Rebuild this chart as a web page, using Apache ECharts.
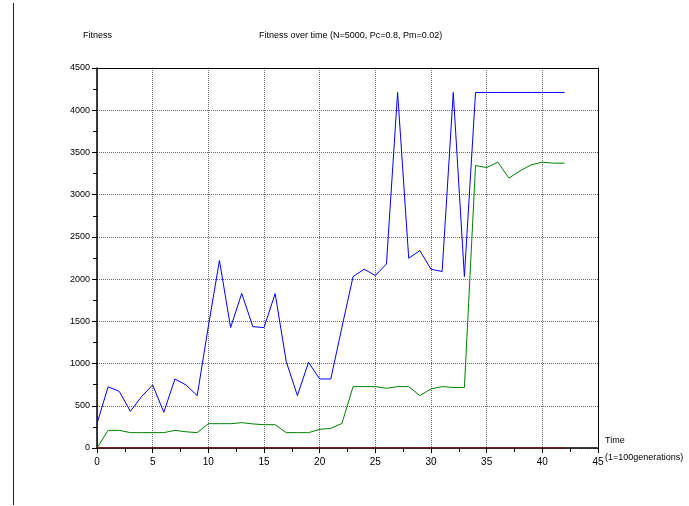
<!DOCTYPE html>
<html><head><meta charset="utf-8">
<script src="https://cdn.jsdelivr.net/npm/echarts@6/dist/echarts.min.js"></script>
<style>html,body{margin:0;padding:0;background:#fff}#c{width:689px;height:506px}</style>
</head><body><div id="c"></div>
<script>
var generations = [0,1,2,3,4,5,6,7,8,9,10,11,12,13,14,15,16,17,18,19,20,21,22,23,24,25,26,27,28,29,30,31,32,33,34,35,36,37,38,39,40,41,42];
var bestFitness = [290,725,670,435,608,746,423,817,746,620,1440,2220,1426,1830,1437,1426,1828,1023,620,1015,817,817,1430,2030,2117,2042,2180,4210,2247,2338,2117,2090,4210,2030,4210,4210,4210,4210,4210,4210,4210,4210,4210];
var avgFitness = [0,209,209,182,182,182,182,209,192,182,288,288,288,300,285,276,276,182,182,182,221,233,291,727,727,727,707,727,727,620,699,727,717,717,3345,3321,3385,3196,3282,3353,3385,3373,3373];
var worstFitness = [0,0,0,0,0,0,0,0,0,0,0,0,0,0,0,0,0,0,0,0,0,0,0,0,0,0,0,0,0,0,0,0,0,0,0,0,0,0,0,0,0,0,0];
var yAxisTitle = 'Fitness';
var chartTitle = 'Fitness over time (N=5000, Pc=0.8, Pm=0.02)';
var xAxisTitle = 'Time\n(1=100generations)';

function pairs(v){ return generations.map(function(g,i){ return [g, v[i]]; }); }
var F = 'Liberation Sans, Arial, sans-serif';
var chart = echarts.init(document.getElementById('c'), null, {renderer:'canvas'});
chart.setOption({
  animation:false,
  backgroundColor:'#fff',
  title:[
    {text:yAxisTitle, left:78, top:26, textStyle:{fontFamily:F, fontSize:9, fontWeight:'normal', color:'#000'}},
    {text:chartTitle, left:254, top:26, textStyle:{fontFamily:F, fontSize:9, fontWeight:'normal', color:'#000'}},
    {text:xAxisTitle, left:600, top:427, textStyle:{fontFamily:F, fontSize:9, fontWeight:'normal', color:'#000', lineHeight:17}}
  ],
  graphic:[{type:'line', shape:{x1:13.5,y1:3,x2:13.5,y2:505}, style:{stroke:'#222', lineWidth:1}}],
  grid:{left:97, right:91, top:68, bottom:58, outerBoundsMode:'none', containLabel:false},
  xAxis:[{
    type:'value', min:0, max:45, interval:5,
    axisLine:{show:true, lineStyle:{color:'#000', width:1.5}},
    axisTick:{show:true, length:5, lineStyle:{color:'#000'}},
    minorTick:{show:true, splitNumber:2, length:4, lineStyle:{color:'#000'}},
    axisLabel:{margin:9, fontFamily:F, fontSize:10, color:'#000'},
    splitLine:{show:true, lineStyle:{color:'#6a6a6a', type:[1,1], width:1}}
  },{
    type:'value', min:0, max:45, position:'top',
    axisLine:{show:true, onZero:false, lineStyle:{color:'#000', width:1}},
    axisTick:{show:false}, axisLabel:{show:false}, splitLine:{show:false}
  }],
  yAxis:[{
    type:'value', min:0, max:4500, interval:500,
    axisLine:{show:true, lineStyle:{color:'#000', width:1.5}},
    axisTick:{show:true, length:5, lineStyle:{color:'#000'}},
    minorTick:{show:true, splitNumber:2, length:4, lineStyle:{color:'#000'}},
    axisLabel:{margin:7, fontFamily:F, fontSize:9, color:'#000', formatter:function(v){return String(v);}},
    splitLine:{show:true, lineStyle:{color:'#6a6a6a', type:[1,1], width:1}}
  },{
    type:'value', min:0, max:4500, position:'right',
    axisLine:{show:true, onZero:false, lineStyle:{color:'#000', width:1}},
    axisTick:{show:false}, axisLabel:{show:false}, splitLine:{show:false}
  }],
  series:[
    {type:'line', data:pairs(bestFitness), symbol:'none', lineStyle:{color:'#0000ff', width:1}, z:3},
    {type:'line', data:pairs(avgFitness), symbol:'none', lineStyle:{color:'#008000', width:1}, z:3},
    {type:'line', data:pairs(worstFitness), symbol:'none', lineStyle:{color:'#a00000', width:1.2}, z:4}
  ]
});
</script></body></html>
